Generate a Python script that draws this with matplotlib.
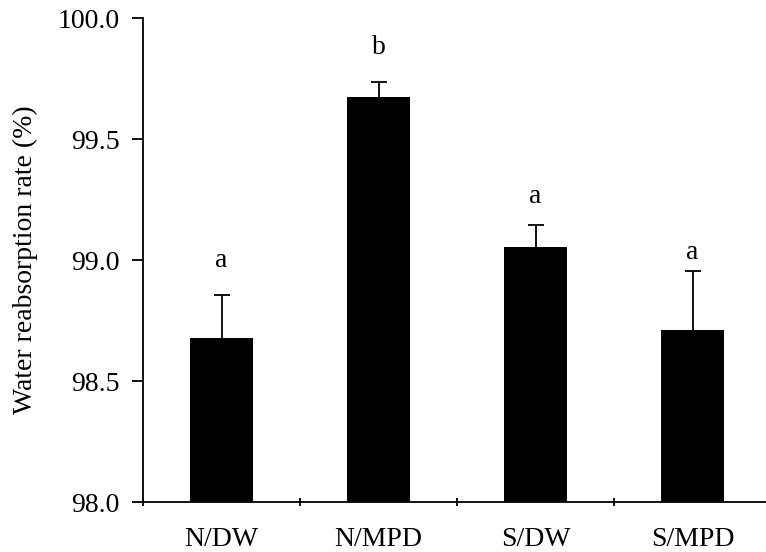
import numpy as np
import matplotlib
matplotlib.use('Agg')
from matplotlib import pyplot as plt

plt.rcParams['font.family'] = ['Liberation Serif', 'DejaVu Serif']
plt.rcParams['font.size'] = 20

#---- data

groups = ['N/DW', 'N/MPD', 'S/DW', 'S/MPD']
rate = [98.68, 99.675, 99.055, 98.71]      # water reabsorption rate (%)
sem = [0.177, 0.062, 0.09, 0.246]          # upper error
letters = ['a', 'b', 'a', 'a']
letter_y = [99.0, 99.88, 99.265, 99.03]    # height of significance letters

#---- figure

fig = plt.figure(figsize=(7.66, 5.52), dpi=100)
ax = fig.add_axes([143/766, 50/552, 628/766, (502-18.3)/552])

x = np.arange(len(groups))
ax.bar(x, np.array(rate) - 98.0, bottom=98.0, width=0.4, color='black', zorder=3)
ax.errorbar(x, rate, yerr=sem, fmt='none', ecolor='black',
            elinewidth=1.3, capsize=6, capthick=1.3, zorder=2)

for i in range(len(groups)):
    ax.text(x[i], letter_y[i], letters[i], ha='center', va='center')

ax.set_xlim(-0.5, 3.5)
ax.set_ylim(98.0, 100.0)
ax.set_yticks(np.arange(98.0, 100.01, 0.5))
ax.set_yticklabels(['%.1f' % v for v in np.arange(98.0, 100.01, 0.5)])

ax.set_xticks(x)
ax.set_xticklabels(groups)
ax.set_xticks(np.arange(-0.5, 3.0, 1.0), minor=True)
ax.tick_params(axis='x', which='major', length=0, pad=18)
ax.tick_params(axis='x', which='minor', length=6, width=1.3, direction='inout')
ax.tick_params(axis='y', length=8, width=1.3, pad=9)

ax.set_ylabel('Water reabsorption rate (%)', labelpad=14)

for s in ['top', 'right']:
    ax.spines[s].set_visible(False)
for s in ['left', 'bottom']:
    ax.spines[s].set_linewidth(1.3)

plt.savefig('out.png', dpi=100)
